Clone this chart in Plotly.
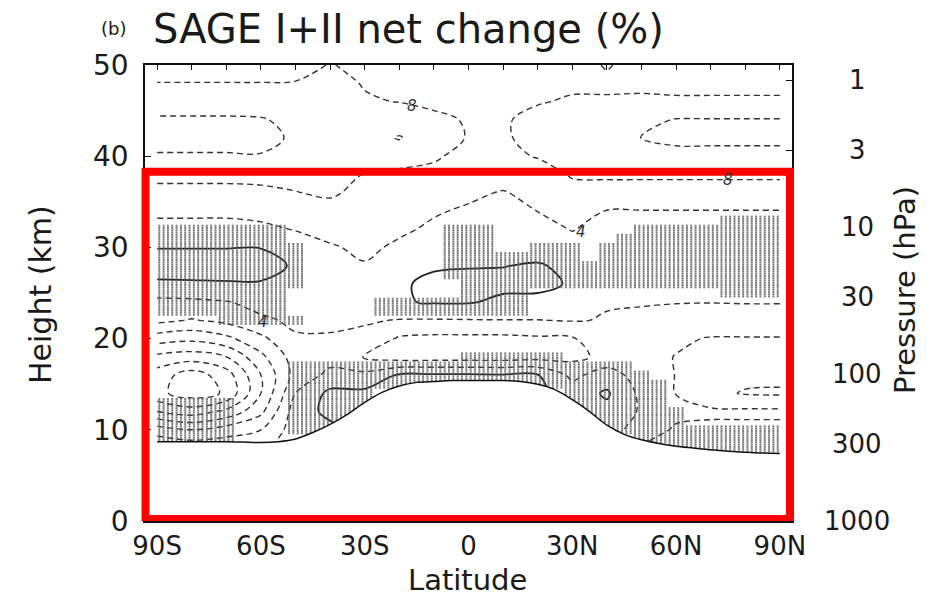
import math
import plotly.graph_objects as go

# ---------------- data ----------------
latitudes = [-90, -80, -70, -60, -50, -40, -30, -20, -10, 0, 10, 20, 30, 40, 50, 60, 70, 80, 90]
heights_km = [50, 48, 46, 44, 42, 40, 38, 36, 34, 32, 30, 28, 26, 24, 22, 20, 18, 16, 14, 12, 10, 8, 6]

# net ozone change (%), rows follow heights_km
change_pct = [
    [-6, -6, -6, -6, -6.5, -8.2, -7, -6.8, -6.5, -6.5, -7.5, -6.5, -7, -8.2, -7, -7, -7, -7, -7],
    [-8.1, -8.1, -8.1, -8.1, -8.2, -9, -7.8, -7.4, -7, -7, -7.4, -7, -7.5, -7.5, -7.5, -7.2, -7.2, -7.2, -7.2],
    [-10, -10, -10, -10, -10, -10, -8.3, -7.9, -7.5, -7.5, -7.6, -7.8, -8.3, -8.3, -8.4, -8.4, -8.4, -8.4, -8.4],
    [-12.5, -12.5, -12.5, -12.3, -11, -10.5, -9.5, -10, -8.5, -7.8, -7.7, -8.8, -9.5, -10.5, -11, -12.2, -12.2, -12.2, -12.2],
    [-14, -14, -14, -13, -11.5, -10.5, -10, -12.3, -9.5, -7.8, -7.6, -9, -10, -11, -12.1, -13.5, -13.5, -13.5, -13.5],
    [-11.5, -11.5, -11.5, -11.8, -10.5, -9.8, -9.5, -9.3, -8.4, -7, -7.2, -8.2, -9.5, -10.5, -10.8, -10, -10, -10, -10],
    [-9, -9, -9, -9, -9, -9, -7.9, -7.4, -7.2, -6, -5.5, -6.5, -8.3, -8.6, -8.6, -8.6, -8.6, -8.6, -8.6],
    [-7, -7, -7, -7.3, -7.9, -8.5, -7, -6.5, -5.5, -4.6, -3.8, -5, -7, -6.5, -6.5, -6.5, -6.5, -6.5, -6.5],
    [-5, -5, -5, -5.2, -6, -6.8, -6, -5.5, -4.3, -3.6, -3, -4.05, -5.3, -3.9, -3.9, -3.9, -3.9, -3.9, -3.9],
    [-2.5, -2.5, -2.5, -3.2, -4.2, -5, -5, -4.5, -3.5, -2.5, -2, -2.5, -4.2, -2.5, -2.5, -2.5, -2.5, -2.5, -2.5],
    [-0.1, -0.1, -0.1, -0.1, -2, -3.7, -4.6, -3.5, -2, -1.5, -1.2, -1.5, -2.5, -2, -2, -2, -2, -2, -2],
    [1.5, 1.5, 1.5, 1.5, -0.5, -2, -3.8, -2, -0.5, -0.2, -0.1, 0.3, -0.8, -2, -2, -2, -2, -2, -2],
    [-0.5, -0.4, -0.3, -0.3, -1.5, -1.8, -3, -0.6, 1, 1, 1, 1, -0.4, -2, -2, -2, -2, -2, -2],
    [-5, -4.8, -4.2, -3, -2.5, -2, -3, -0.3, 0.3, 0.3, -0.8, -1, -2, -3.8, -3.8, -3.8, -3.9, -3.8, -3.8],
    [-7, -8.3, -7, -4.5, -3.5, -3, -3.6, -4.2, -4.3, -4.2, -4.1, -4.1, -3.8, -4.2, -4.6, -6, -6, -6, -6],
    [-14, -15, -13, -9, -4.3, -4.5, -5, -8.5, -9, -9, -9, -8.6, -8.3, -6, -6, -7.5, -8.2, -8.2, -8.2],
    [-21, -22, -20, -13, -6, -5.5, -8.3, -10, -10, -10, -10, -9.5, -9, -7, -7, -8.1, -9, -9.5, -9.5],
    [-26, -30, -26, -16, -6.5, -3, -3, 0.5, 0.5, 0.5, 0.3, 0.2, -5, -2, -6, -8.1, -10, -11, -11],
    [-27, -30, -27.5, -16, -4, 1, 1, 1, 1, 1, 1, 1, -2, 0.5, -5, -8.1, -11, -12.3, -12.5],
    [-20, -22, -19, -13, -2, 1, 1, 1, 1, 1, 1, 1, -1, -1, -4.5, -7, -7.2, -7.2, -7.2],
    [-10, -12, -10, -8, -2, -1, 1, 1, 1, 1, 1, 1, -1, -2, -6, -8.5, -9, -9, -9],
    [-4, -5, -5, -5, -2, 0.5, 1, 1, 1, 1, 1, 1, -1, -2, -8, -9, -10, -10, -10],
    [-4, -5, -5, -5, -2, 0.5, 1, 1, 1, 1, 1, 1, -1, -2, -8, -9, -10, -10, -10],
]

# tropopause height (km)
trop_lat = list(range(-90, 91, 5))
trop_km = [8.7, 8.7, 8.7, 8.7, 8.7, 8.65, 8.6, 8.7, 9.0, 9.7, 10.6, 11.7, 13.0, 14.1, 14.8, 15.2,
           15.3, 15.4, 15.4, 15.4, 15.4, 15.3, 15.0, 14.4, 13.3, 12.0, 10.5, 9.5, 8.9, 8.5, 8.2,
           8.0, 7.8, 7.65, 7.55, 7.45, 7.4]

# statistically significant regions: height (km) -> latitude runs (5-degree cells)
signif_runs = {
    33: [(75, 90)],
    32: [(-90, -55), (-5, 5), (50, 90)],
    31: [(-90, -55), (-5, 5), (45, 90)],
    30: [(-90, -50), (-5, 5), (20, 30), (40, 90)],
    29: [(-90, -50), (-5, 30), (40, 90)],
    28: [(-90, -50), (-5, 90)],
    27: [(-90, -50), (-5, 90)],
    26: [(-90, -50), (0, 90)],
    25: [(-90, -55), (0, 15), (75, 90)],
    24: [(-90, -55), (-25, 15)],
    23: [(-90, -55), (-25, 15)],
    22: [(-70, -50)],
    18: [(0, 25)],
    17: [(-50, 45)],
    16: [(-50, 50)],
    15: [(-50, 55)],
    14: [(-50, -30), (30, 55)],
    13: [(-90, -70), (-50, -30), (30, 55)],
    12: [(-90, -70), (-50, -30), (35, 60)],
    11: [(-90, -70), (-50, -30), (35, 60)],
    10: [(-90, -70), (-50, -30), (40, 90)],
    9: [(-90, -70), (50, 90)],
    8: [(60, 90)],
}

pressure_hpa = [1, 3, 10, 30, 100, 300, 1000]
pressure_labels = ["1", "3", "10", "30", "100", "300", "1000"]
scale_height_km = 7.0

lat_ticks = [-90, -60, -30, 0, 30, 60, 90]
lat_tick_text = ["90S", "60S", "30S", "0", "30N", "60N", "90N"]
height_ticks = [0, 10, 20, 30, 40, 50]

contour_labels = [("8", -16.4, 45.5), ("4", 32.6, 31.7), ("4", -59.4, 21.8), ("8", 75.0, 37.4)]
highlight_km = (0.22, 38.3)

# ---------------- figure ----------------
FONT = "DejaVu Sans"
INK = "#1a1a1a"
x_range = [-93.5, 93.5]
y_range = [0, 50]

fig = go.Figure()

y_up = heights_km[::-1]
z_up = change_pct[::-1]

# negative contours (dashed)
fig.add_trace(go.Contour(
    x=latitudes, y=y_up, z=z_up,
    autocontour=False,
    contours=dict(start=-36, end=-4, size=4, coloring="lines", showlabels=False),
    colorscale=[[0, "#333333"], [1, "#333333"]], showscale=False,
    line=dict(width=1.4, dash="6px,4px", smoothing=1.0),
    hoverinfo="skip",
))
# zero contour (solid)
fig.add_trace(go.Contour(
    x=latitudes, y=y_up, z=z_up,
    autocontour=False,
    contours=dict(start=0, end=8, size=8, coloring="lines", showlabels=False),
    colorscale=[[0, "#222222"], [1, "#222222"]], showscale=False,
    line=dict(width=1.8, smoothing=1.0),
    hoverinfo="skip",
))

# stippling of significant regions
sx, sy = [], []
for zc, runs in signif_runs.items():
    for a, b in runs:
        lat = a - 1.875
        while lat <= b + 1.875 + 1e-9:
            if -90 <= lat <= 90:
                for dz in (-0.375, -0.125, 0.125, 0.375):
                    sx.append(lat)
                    sy.append(zc + dz)
            lat += 1.25
fig.add_trace(go.Scatter(
    x=sx, y=sy, mode="markers",
    marker=dict(symbol="square", size=2, color="rgba(90,90,90,0.8)", line=dict(width=0)),
    hoverinfo="skip", showlegend=False,
))

# tropopause (blank below)
fig.add_trace(go.Scatter(
    x=trop_lat, y=trop_km, mode="lines",
    line=dict(color="#111111", width=1.5, shape="spline", smoothing=0.8),
    fill="tozeroy", fillcolor="white",
    hoverinfo="skip", showlegend=False,
))

# dummy trace for secondary (top / right) tick axes
fig.add_trace(go.Scatter(x=[None], y=[None], xaxis="x2", yaxis="y2", showlegend=False, hoverinfo="skip"))

p_heights = [scale_height_km * math.log(1000.0 / p) for p in pressure_hpa]

W, H = 927, 599
ml, mr, mt, mb = 145, 135, 65, 78
pw, ph = W - ml - mr, H - mt - mb


def px(xp):
    return (xp - ml) / pw


def py(yp):
    return (H - mb - yp) / ph


annotations = []
for lab, ph_km in zip(pressure_labels, p_heights):
    annotations.append(dict(text=lab, x=px(857), y=ph_km, xref="paper", yref="y",
                            xanchor="center", yanchor="middle", showarrow=False,
                            font=dict(family=FONT, size=26, color=INK)))
for txt, la, hk in contour_labels:
    annotations.append(dict(text="<i>%s</i>" % txt, x=la, y=hk, xref="x", yref="y",
                            showarrow=False, font=dict(family=FONT, size=15, color="#333333")))
annotations += [
    dict(text="(b)", x=px(113), y=py(29), xref="paper", yref="paper", showarrow=False,
         xanchor="center", yanchor="middle", font=dict(family=FONT, size=18, color=INK)),
    dict(text="SAGE I+II net change (%)", x=px(151), y=py(29), xref="paper", yref="paper",
         showarrow=False, xanchor="left", yanchor="middle", font=dict(family=FONT, size=40, color=INK)),
    dict(text="Height (km)", x=px(40), y=py(295), xref="paper", yref="paper", showarrow=False,
         textangle=-90, xanchor="center", yanchor="middle", font=dict(family=FONT, size=30, color=INK)),
    dict(text="Pressure (hPa)", x=px(905), y=py(290), xref="paper", yref="paper", showarrow=False,
         textangle=-90, xanchor="center", yanchor="middle", font=dict(family=FONT, size=29, color=INK)),
    dict(text="Latitude", x=px(467), y=py(580), xref="paper", yref="paper", showarrow=False,
         xanchor="center", yanchor="middle", font=dict(family=FONT, size=29, color=INK)),
]

fig.update_layout(
    width=W, height=H,
    margin=dict(l=ml, r=mr, t=mt, b=mb, pad=0),
    paper_bgcolor="white", plot_bgcolor="white",
    showlegend=False,
    font=dict(family=FONT, color=INK),
    xaxis=dict(range=x_range, tickvals=lat_ticks, ticktext=lat_tick_text,
               ticks="inside", ticklen=6, tickwidth=1.2, tickcolor="#111",
               showline=True, linecolor="#111", linewidth=1.5, mirror=True,
               showgrid=False, zeroline=False, ticklabelstandoff=1,
               tickfont=dict(family=FONT, size=26, color=INK)),
    yaxis=dict(range=y_range, tickvals=height_ticks,
               ticks="inside", ticklen=6, tickwidth=1.2, tickcolor="#111",
               showline=True, linecolor="#111", linewidth=1.5, mirror=True,
               showgrid=False, zeroline=False, ticklabelstandoff=9,
               tickfont=dict(family=FONT, size=28, color=INK)),
    xaxis2=dict(range=x_range, overlaying="x", side="top", anchor="y",
                tickmode="linear", tick0=-90, dtick=10, ticks="inside", ticklen=5,
                tickcolor="#111", showticklabels=False, showline=False,
                showgrid=False, zeroline=False),
    yaxis2=dict(range=y_range, overlaying="y", side="right", anchor="x",
                tickvals=p_heights, ticks="inside", ticklen=6, tickcolor="#111",
                showticklabels=False, showline=False, showgrid=False, zeroline=False),
    annotations=annotations,
    shapes=[dict(type="rect", xref="paper", yref="y",
                 x0=px(145.5), x1=px(790), y0=highlight_km[0], y1=highlight_km[1],
                 line=dict(color="#ff0000", width=8), fillcolor="rgba(0,0,0,0)", layer="above")],
)

fig.write_html("out.html")
